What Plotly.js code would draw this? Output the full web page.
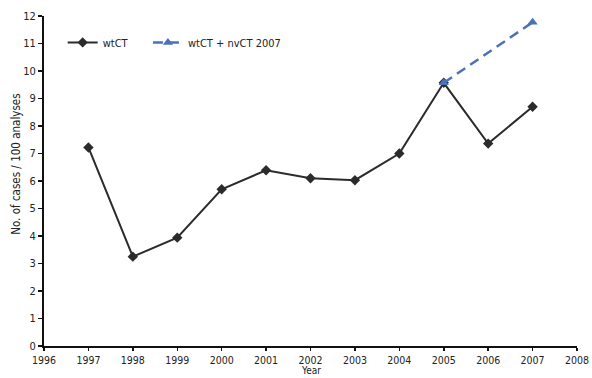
<!DOCTYPE html>
<html>
<head>
<meta charset="utf-8">
<script src="https://cdn.plot.ly/plotly-3.0.1.min.js"></script>
<style>html,body{margin:0;padding:0;background:#fff;}#chart{width:592px;height:378px;}</style>
</head>
<body>
<div id="chart"></div>
<script>
var years = [1997, 1998, 1999, 2000, 2001, 2002, 2003, 2004, 2005, 2006, 2007];
var wtCT = [7.22, 3.25, 3.94, 5.70, 6.39, 6.10, 6.03, 7.0, 9.57, 7.36, 8.70];
var nvYears = [2005, 2007];
var nvCT = [9.57, 11.77];
var xTicks = [1996, 1997, 1998, 1999, 2000, 2001, 2002, 2003, 2004, 2005, 2006, 2007, 2008];
var yTicks = [0, 1, 2, 3, 4, 5, 6, 7, 8, 9, 10, 11, 12];
var xTitle = 'Year';
var yTitle = 'No. of cases / 100 analyses';

var font = "DejaVu Sans Condensed, sans-serif";
var legFont = {family: font, size: 11, color: '#222'};
var traces = [
  {x: years, y: wtCT, name: 'wtCT', mode: 'lines+markers', type: 'scatter', legend: 'legend',
   line: {color: '#2b2b2b', width: 2}, marker: {symbol: 'diamond', size: 8, color: '#2b2b2b'}},
  {x: nvYears, y: nvCT, name: 'wtCT + nvCT 2007', mode: 'lines+markers', type: 'scatter', legend: 'legend2',
   line: {color: '#4a72b8', width: 2.5, dash: '10px,6px'}, marker: {symbol: 'triangle-up', size: 9, color: '#4a72b8'}}
];
var layout = {
  width: 592, height: 378,
  margin: {l: 44, r: 15, t: 16, b: 32},
  paper_bgcolor: '#fff', plot_bgcolor: '#fff',
  font: {family: font, size: 11, color: '#222'},
  showlegend: true,
  legend: {orientation: 'h', x: 0.035, y: 0.92, xanchor: 'left', yanchor: 'middle',
    font: legFont, bgcolor: 'rgba(0,0,0,0)', itemwidth: 30},
  legend2: {orientation: 'h', x: 0.195, y: 0.92, xanchor: 'left', yanchor: 'middle',
    font: legFont, bgcolor: 'rgba(0,0,0,0)', itemwidth: 30},
  xaxis: {range: [1996, 2008], tickvals: xTicks, ticktext: xTicks.map(String),
    showgrid: false, zeroline: false, showline: true, linecolor: '#111', linewidth: 2,
    ticks: 'outside', ticklen: 3, tickwidth: 1.5, tickcolor: '#111', ticklabelstandoff: 0,
    tickfont: {family: font, size: 10.5, color: '#222'}},
  yaxis: {range: [0, 12], tickvals: yTicks, showgrid: false, zeroline: false,
    showline: true, linecolor: '#111', linewidth: 2,
    ticks: 'outside', ticklen: 4, tickwidth: 1.5, tickcolor: '#111'},
  annotations: [
    {text: xTitle, xref: 'paper', yref: 'paper', x: 0.5, y: 0, yshift: -32, xanchor: 'center', yanchor: 'bottom',
     showarrow: false, font: {family: font, size: 10, color: '#222'}},
    {text: yTitle, xref: 'paper', yref: 'paper', x: -0.052, y: 0.55, xanchor: 'center', yanchor: 'middle',
     textangle: -90, showarrow: false, font: {family: font, size: 11.5, color: '#222'}}
  ]
};
Plotly.newPlot('chart', traces, layout, {displayModeBar: false, staticPlot: true});
</script>
</body>
</html>
